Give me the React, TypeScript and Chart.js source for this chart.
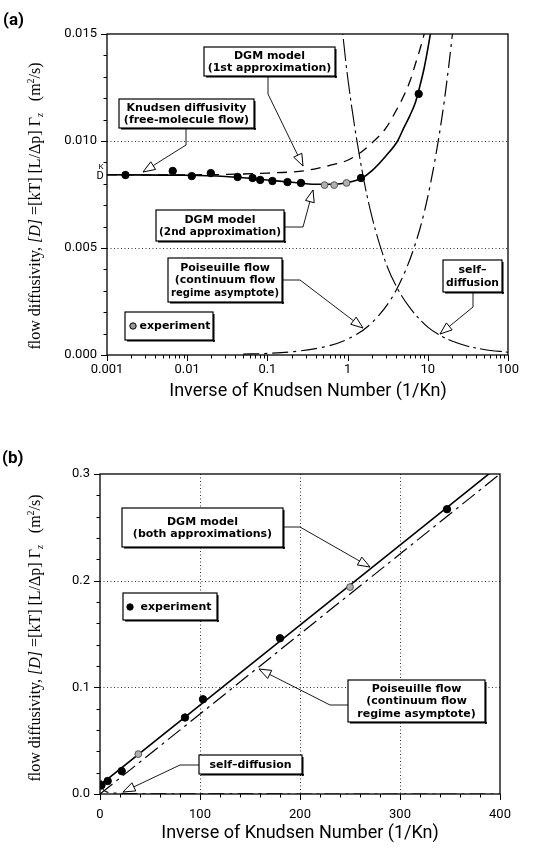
import React, { useEffect, useRef } from 'react';
import { Chart, registerables } from 'chart.js';
Chart.register(...registerables);

// ---------- Panel (a) data ----------
const A_X_TICKS = [0.001, 0.01, 0.1, 1, 10, 100];
const A_X_LABELS = ['0.001', '0.01', '0.1', '1', '10', '100'];
const A_Y_TICKS = [0, 0.005, 0.01, 0.015];
const A_Y_LABELS = ['0.000', '0.005', '0.010', '0.015'];

const A_EXP_X = [0.0017, 0.0066, 0.0114, 0.0197, 0.0425, 0.0653, 0.0813, 0.1155, 0.178, 0.262, 1.47, 7.7];
const A_EXP_Y = [0.00841, 0.0086, 0.00836, 0.0085, 0.00832, 0.00827, 0.00818, 0.00813, 0.00808, 0.00804, 0.00827, 0.0122];
const A_EXP_GRAY_X = [0.516, 0.68, 0.97];
const A_EXP_GRAY_Y = [0.00794, 0.00794, 0.00804];

const A_DGM2_X = [0.001, 0.01, 0.03, 0.1, 0.2, 0.4, 0.7, 1, 1.5, 2, 3, 4.2, 5, 6, 7, 8, 9, 10, 11];
const A_DGM2_Y = [0.00842, 0.0084, 0.00834, 0.00818, 0.00807, 0.00798, 0.00798, 0.00806, 0.00826, 0.0086, 0.0093, 0.01, 0.0106, 0.0112, 0.0118, 0.0126, 0.0134, 0.0143, 0.0152];

const A_DGM1_X = [0.001, 0.01, 0.1, 0.3, 0.6, 1, 1.5, 2, 3, 4, 5, 6, 7, 8, 9, 10];
const A_DGM1_Y = [0.00842, 0.00842, 0.0085, 0.00862, 0.00886, 0.0091, 0.0095, 0.0099, 0.0106, 0.0114, 0.0121, 0.0128, 0.0136, 0.0143, 0.015, 0.0158];

const A_POIS_X = [0.05, 0.1, 0.2, 0.5, 1, 2, 4, 7, 10, 15, 20, 25];
const A_POIS_Y = [0.000037, 0.000074, 0.00015, 0.00037, 0.00074, 0.0015, 0.003, 0.0052, 0.0074, 0.0111, 0.0148, 0.0185];

const A_SELF_X = [0.8, 1, 1.5, 2, 3, 4.2, 6, 10, 15, 20, 30, 50, 100];
const A_SELF_Y = [0.0163, 0.013, 0.0087, 0.0065, 0.0043, 0.0031, 0.0022, 0.0013, 0.00087, 0.00065, 0.00043, 0.00026, 0.00013];

// ---------- Panel (b) data ----------
const B_X_TICKS = [0, 100, 200, 300, 400];
const B_X_LABELS = ['0', '100', '200', '300', '400'];
const B_Y_TICKS = [0, 0.1, 0.2, 0.3];
const B_Y_LABELS = ['0.0', '0.1', '0.2', '0.3'];

const B_EXP_X = [0.5, 1.5, 7.7, 21.7, 85, 103, 180, 347];
const B_EXP_Y = [0.008, 0.0083, 0.0122, 0.0215, 0.0717, 0.0888, 0.146, 0.267];
const B_EXP_GRAY_X = [38.3, 250];
const B_EXP_GRAY_Y = [0.0374, 0.194];

const B_DGM_X = [0, 100, 200, 300, 400];
const B_DGM_Y = [0.0084, 0.0834, 0.1584, 0.2334, 0.3084];
const B_POIS_X = [0, 100, 200, 300, 400];
const B_POIS_Y = [0, 0.075, 0.15, 0.225, 0.3];
const B_SELF_X = [1, 2, 4, 8, 15, 30, 60, 120, 400];
const B_SELF_Y = [0.013, 0.0065, 0.0033, 0.0016, 0.00087, 0.00043, 0.00022, 0.00011, 0.00003];

// ---------- helpers ----------
const pts = (xs: number[], ys: number[]) => xs.map((x, i) => ({ x, y: ys[i] }));

const SANS = 'Roboto';
const BOXFONT = '"DejaVu Sans"';
const SERIF = '"Liberation Serif"';

function fitText(ctx: CanvasRenderingContext2D, t: string, cx: number, cy: number, maxW: number) {
  const w = ctx.measureText(t).width;
  if (w <= maxW) { ctx.fillText(t, cx, cy); return; }
  ctx.save();
  ctx.translate(cx, cy);
  ctx.scale(maxW / w, 1);
  ctx.fillText(t, 0, 0);
  ctx.restore();
}

function drawBox(ctx: CanvasRenderingContext2D, b: any) {
  ctx.save();
  ctx.fillStyle = '#fff';
  ctx.fillRect(b.x, b.y, b.w, b.h);
  ctx.fillStyle = '#000';
  ctx.fillRect(b.x + 2, b.y + b.h, b.w, 1.5);
  ctx.fillRect(b.x + b.w, b.y + 2, 1.5, b.h);
  ctx.strokeStyle = '#000';
  ctx.lineWidth = 1.2;
  ctx.strokeRect(b.x, b.y, b.w, b.h);
  ctx.font = `bold 11px ${BOXFONT}`;
  ctx.textAlign = 'center';
  ctx.textBaseline = 'middle';
  const lh = b.lh || 12.5;
  const n = b.lines.length;
  const tx = b.tx || b.w / 2;
  const maxW = b.tx ? (b.w - tx) * 2 - 4 : b.w - 6;
  b.lines.forEach((t: string, i: number) => {
    fitText(ctx, t, b.x + tx, b.y + b.h / 2 + (i - (n - 1) / 2) * lh + 0.5, maxW);
  });
  if (b.marker) {
    ctx.beginPath();
    ctx.arc(b.marker[0], b.marker[1], 3.2, 0, Math.PI * 2);
    ctx.fillStyle = b.markerFill || '#000';
    ctx.fill();
    ctx.lineWidth = 1;
    ctx.stroke();
  }
  ctx.restore();
}

function drawArrow(ctx: CanvasRenderingContext2D, p: number[][]) {
  ctx.save();
  ctx.strokeStyle = '#000';
  ctx.lineWidth = 0.9;
  ctx.beginPath();
  ctx.moveTo(p[0][0], p[0][1]);
  for (let i = 1; i < p.length; i++) ctx.lineTo(p[i][0], p[i][1]);
  ctx.stroke();
  const [x1, y1] = p[p.length - 2];
  const [x2, y2] = p[p.length - 1];
  const a = Math.atan2(y2 - y1, x2 - x1);
  const L = 12, W = 4.5;
  const bx = x2 - L * Math.cos(a), by = y2 - L * Math.sin(a);
  ctx.beginPath();
  ctx.moveTo(x2, y2);
  ctx.lineTo(bx + W * Math.sin(a), by - W * Math.cos(a));
  ctx.lineTo(bx - W * Math.sin(a), by + W * Math.cos(a));
  ctx.closePath();
  ctx.fillStyle = '#fff';
  ctx.fill();
  ctx.lineWidth = 1;
  ctx.stroke();
  ctx.restore();
}

function drawYTitle(ctx: CanvasRenderingContext2D, cx: number, cy: number) {
  const segs = [
    { t: 'flow diffusivity, ', f: `16px ${SERIF}`, dy: 0 },
    { t: '[D]', f: `italic 16px ${SERIF}`, dy: 0 },
    { t: ' =[kT] [L/\u0394p] \u0393', f: `16px ${SERIF}`, dy: 0 },
    { t: 'z', f: `italic 10px ${SERIF}`, dy: 3 },
    { t: '   (m', f: `16px ${SERIF}`, dy: 0 },
    { t: '2', f: `10px ${SERIF}`, dy: -6 },
    { t: '/s)', f: `16px ${SERIF}`, dy: 0 },
  ];
  ctx.save();
  let total = 0;
  const ws = segs.map((s) => { ctx.font = s.f; const w = ctx.measureText(s.t).width; total += w; return w; });
  ctx.translate(cx, cy);
  ctx.rotate(-Math.PI / 2);
  ctx.fillStyle = '#000';
  ctx.textBaseline = 'alphabetic';
  ctx.textAlign = 'left';
  let x = -total / 2;
  segs.forEach((s, i) => { ctx.font = s.f; ctx.fillText(s.t, x, s.dy); x += ws[i]; });
  ctx.restore();
}

function overlay(spec: any) {
  return {
    id: 'overlay',
    beforeDatasetsDraw(chart: any) {
      const ctx = chart.ctx as CanvasRenderingContext2D;
      const { left, right, top, bottom } = chart.chartArea;
      const xs = chart.scales.x, ys = chart.scales.y;
      ctx.save();
      ctx.strokeStyle = '#333';
      ctx.lineWidth = 1;
      ctx.setLineDash([1, 2.5]);
      spec.hGrid.forEach((v: number) => {
        const y = Math.round(ys.getPixelForValue(v)) + 0.5;
        ctx.beginPath(); ctx.moveTo(left, y); ctx.lineTo(right, y); ctx.stroke();
      });
      spec.vGrid.forEach((v: number) => {
        const x = Math.round(xs.getPixelForValue(v)) + 0.5;
        ctx.beginPath(); ctx.moveTo(x, top); ctx.lineTo(x, bottom); ctx.stroke();
      });
      ctx.restore();
    },
    afterDatasetsDraw(chart: any) {
      const ctx = chart.ctx as CanvasRenderingContext2D;
      const { left, right, top, bottom } = chart.chartArea;
      const xs = chart.scales.x, ys = chart.scales.y;
      ctx.save();
      ctx.strokeStyle = '#000';
      ctx.lineWidth = 1.3;
      ctx.strokeRect(left, top, right - left, bottom - top);
      ctx.lineWidth = 1;
      const tick = (x1: number, y1: number, x2: number, y2: number) => {
        ctx.beginPath(); ctx.moveTo(x1, y1); ctx.lineTo(x2, y2); ctx.stroke();
      };
      spec.xMajor.forEach((v: number) => { const x = Math.round(xs.getPixelForValue(v)) + 0.5; tick(x, bottom, x, bottom + 6); });
      spec.xMinor.forEach((v: number) => { const x = Math.round(xs.getPixelForValue(v)) + 0.5; tick(x, bottom, x, bottom + 3.5); });
      spec.yMajor.forEach((v: number) => { const y = Math.round(ys.getPixelForValue(v)) + 0.5; tick(left - 6, y, left, y); });
      spec.yMinor.forEach((v: number) => { const y = Math.round(ys.getPixelForValue(v)) + 0.5; tick(left - 3.5, y, left, y); });
      ctx.restore();

      ctx.save();
      ctx.translate(0, -spec.offset);
      spec.arrows.forEach((a: number[][]) => drawArrow(ctx, a));
      spec.boxes.forEach((b: any) => drawBox(ctx, b));
      ctx.fillStyle = '#000';
      ctx.font = `bold 17px ${SANS}`;
      ctx.textAlign = 'left';
      ctx.textBaseline = 'alphabetic';
      ctx.fillText(spec.letter[0], spec.letter[1], spec.letter[2]);
      ctx.font = `18px ${SANS}`;
      ctx.textAlign = 'center';
      ctx.textBaseline = 'middle';
      ctx.fillText('Inverse of Knudsen Number (1/Kn)', spec.xTitle[0], spec.xTitle[1]);
      drawYTitle(ctx, spec.yTitle[0], spec.yTitle[1]);
      if (spec.dk) {
        ctx.fillStyle = '#fff';
        ctx.fillRect(spec.dk[0] - 5, spec.dk[1] - 17, 7, 19);
        ctx.fillStyle = '#000';
        ctx.font = `11px ${SANS}`;
        ctx.textAlign = 'center';
        ctx.textBaseline = 'alphabetic';
        ctx.fillText('D', spec.dk[0], spec.dk[1]);
        ctx.font = `8px ${SANS}`;
        ctx.fillText('K', spec.dk[0] + 1, spec.dk[1] - 10);
      }
      ctx.restore();
    },
  };
}

function range(a: number, b: number, step: number) {
  const out: number[] = [];
  for (let v = a; v <= b + step / 1000; v += step) out.push(Math.round(v * 1e6) / 1e6);
  return out;
}

function logMinor() {
  const out: number[] = [];
  [0.001, 0.01, 0.1, 1, 10].forEach((d) => { for (let k = 2; k <= 9; k++) out.push(d * k); });
  return out;
}

const lineDs = (xs: number[], ys: number[], extra: any) => ({
  data: pts(xs, ys), showLine: true, pointRadius: 0, borderColor: '#000', borderWidth: 1.3,
  cubicInterpolationMode: 'monotone', ...extra,
});

const tickFont = { family: SANS, size: 13 };

function configA() {
  return {
    type: 'scatter',
    data: {
      datasets: [
        { data: pts(A_EXP_X, A_EXP_Y), pointRadius: 3.7, backgroundColor: '#000', borderColor: '#000', showLine: false },
        { data: pts(A_EXP_GRAY_X, A_EXP_GRAY_Y), pointRadius: 3.4, backgroundColor: '#b0b0b0', borderColor: '#555', borderWidth: 1, showLine: false },
        lineDs(A_DGM2_X, A_DGM2_Y, { borderWidth: 1.6 }),
        lineDs(A_DGM1_X, A_DGM1_Y, { borderDash: [10, 7], borderWidth: 1.3 }),
        lineDs(A_POIS_X, A_POIS_Y, { borderDash: [16, 5, 3, 5], borderWidth: 1.2 }),
        lineDs(A_SELF_X, A_SELF_Y, { borderDash: [22, 4, 3, 4], borderWidth: 1.1 }),
      ],
    },
    options: {
      responsive: false, animation: false, devicePixelRatio: 1,
      layout: { padding: { top: 34, right: 40, left: 0, bottom: 0 } },
      plugins: { legend: { display: false }, tooltip: { enabled: false } },
      scales: {
        x: {
          type: 'logarithmic', min: 0.001, max: 100,
          afterBuildTicks: (s: any) => { s.ticks = A_X_TICKS.map((v) => ({ value: v })); },
          afterFit: (s: any) => { s.height = 70; },
          grid: { display: false, drawTicks: false }, border: { display: false },
          ticks: { padding: 7, color: '#000', font: tickFont, autoSkip: false, maxRotation: 0, callback: (_v: any, i: number) => A_X_LABELS[i] },
        },
        y: {
          type: 'linear', min: 0, max: 0.015,
          afterBuildTicks: (s: any) => { s.ticks = A_Y_TICKS.map((v) => ({ value: v })); },
          afterFit: (s: any) => { s.width = 107; },
          grid: { display: false, drawTicks: false }, border: { display: false },
          ticks: { padding: 10, color: '#000', font: tickFont, autoSkip: false, callback: (_v: any, i: number) => A_Y_LABELS[i] },
        },
      },
    },
    plugins: [overlay({
      offset: 0,
      hGrid: [0.005, 0.01], vGrid: [],
      xMajor: A_X_TICKS, xMinor: logMinor(),
      yMajor: A_Y_TICKS, yMinor: range(0, 0.015, 0.001),
      letter: ['(a)', 3, 25],
      xTitle: [308, 391],
      yTitle: [40, 206],
      dk: [100, 179],
      arrows: [
        [[268, 76], [268, 94], [303, 166]],
        [[186, 128], [186, 145], [143, 172]],
        [[284, 227], [303, 227], [313, 190]],
        [[282, 280], [300, 280], [363, 328]],
        [[473, 292], [473, 307], [440, 334]],
      ],
      boxes: [
        { x: 204, y: 47, w: 131, h: 29, lines: ['DGM model', '(1st approximation)'] },
        { x: 119, y: 99, w: 135, h: 29, lines: ['Knudsen diffusivity', '(free-molecule flow)'] },
        { x: 156, y: 210, w: 128, h: 31, lines: ['DGM model', '(2nd approximation)'] },
        { x: 168, y: 258, w: 114, h: 44, lines: ['Poiseuille flow', '(continuum flow', 'regime asymptote)'] },
        { x: 443, y: 260, w: 59, h: 32, lines: ['self\u2013', 'diffusion'] },
        { x: 125, y: 312, w: 88, h: 28, lines: ['experiment'], tx: 50, marker: [133, 326], markerFill: '#999' },
      ],
    })],
  };
}

function configB() {
  return {
    type: 'scatter',
    data: {
      datasets: [
        { data: pts(B_EXP_X, B_EXP_Y), pointRadius: 3.7, backgroundColor: '#000', borderColor: '#000', showLine: false },
        { data: pts(B_EXP_GRAY_X, B_EXP_GRAY_Y), pointRadius: 3.4, backgroundColor: '#b0b0b0', borderColor: '#555', borderWidth: 1, showLine: false },
        lineDs(B_DGM_X, B_DGM_Y, { borderWidth: 1.6, cubicInterpolationMode: 'default' }),
        lineDs(B_POIS_X, B_POIS_Y, { borderDash: [16, 5, 3, 5], borderWidth: 1.2, cubicInterpolationMode: 'default' }),
        lineDs(B_SELF_X, B_SELF_Y, { borderDash: [16, 5, 3, 5], borderWidth: 1.1 }),
      ],
    },
    options: {
      responsive: false, animation: false, devicePixelRatio: 1,
      layout: { padding: { top: 49, right: 48, left: 0, bottom: 0 } },
      plugins: { legend: { display: false }, tooltip: { enabled: false } },
      scales: {
        x: {
          type: 'linear', min: 0, max: 400,
          afterBuildTicks: (s: any) => { s.ticks = B_X_TICKS.map((v) => ({ value: v })); },
          afterFit: (s: any) => { s.height = 57; },
          grid: { display: false, drawTicks: false }, border: { display: false },
          ticks: { padding: 13, color: '#000', font: tickFont, autoSkip: false, maxRotation: 0, callback: (_v: any, i: number) => B_X_LABELS[i] },
        },
        y: {
          type: 'linear', min: 0, max: 0.3,
          afterBuildTicks: (s: any) => { s.ticks = B_Y_TICKS.map((v) => ({ value: v })); },
          afterFit: (s: any) => { s.width = 100; },
          grid: { display: false, drawTicks: false }, border: { display: false },
          ticks: { padding: 10, color: '#000', font: tickFont, autoSkip: false, callback: (_v: any, i: number) => B_Y_LABELS[i] },
        },
      },
    },
    plugins: [overlay({
      offset: 425,
      hGrid: [0.1, 0.2], vGrid: [100, 200, 300],
      xMajor: B_X_TICKS, xMinor: range(0, 400, 20),
      yMajor: B_Y_TICKS, yMinor: range(0, 0.3, 0.02),
      letter: ['(b)', 2, 463],
      xTitle: [300, 833],
      yTitle: [40, 638],
      dk: null,
      arrows: [
        [[283, 527], [300, 527], [370, 567]],
        [[348, 705], [330, 705], [259, 669]],
        [[199, 765], [180, 765], [123, 792]],
      ],
      boxes: [
        { x: 122, y: 508, w: 161, h: 39, lines: ['DGM model', '(both approximations)'] },
        { x: 123, y: 593, w: 94, h: 27, lines: ['experiment'], tx: 53, marker: [130, 607], markerFill: '#000' },
        { x: 348, y: 680, w: 137, h: 42, lines: ['Poiseuille flow', '(continuum flow', 'regime asymptote)'] },
        { x: 199, y: 755, w: 103, h: 19, lines: ['self\u2013diffusion'] },
      ],
    })],
  };
}

function Panel({ make, top, height }: { make: () => any; top: number; height: number }) {
  const ref = useRef<HTMLCanvasElement | null>(null);
  useEffect(() => {
    const chart = new Chart(ref.current as HTMLCanvasElement, make());
    return () => chart.destroy();
  }, []);
  return (
    <canvas ref={ref} width={548} height={height}
      style={{ position: 'absolute', left: 0, top, width: 548, height, display: 'block' }} />
  );
}

export default function App() {
  return (
    <div style={{ position: 'absolute', left: 0, top: 0, width: 548, height: 851, background: '#fff', overflow: 'hidden' }}>
      <Panel make={configA} top={0} height={425} />
      <Panel make={configB} top={425} height={426} />
    </div>
  );
}
